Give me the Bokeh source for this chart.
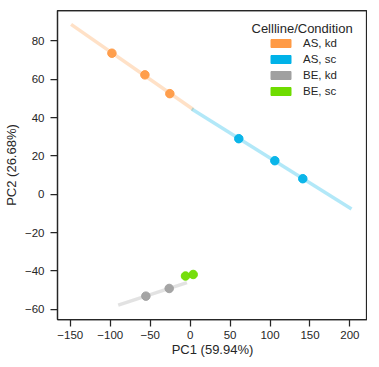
import numpy as np
from bokeh.plotting import figure
from bokeh.models import Range1d, FixedTicker, Legend, LegendItem, Label, Span
from bokeh.embed import file_html
from bokeh.resources import INLINE

groups = ["AS, kd", "AS, sc", "BE, kd", "BE, sc"]
colors = ["#FF9A45", "#00B2E8", "#A0A0A0", "#6FDC00"]
pc1 = {
    "AS, kd": [-97.9, -56.6, -25.4],
    "AS, sc": [60.9, 106.0, 141.0],
    "BE, kd": [-55.4, -26.2],
    "BE, sc": [-5.8, 3.8],
}
pc2 = {
    "AS, kd": [73.6, 62.3, 52.5],
    "AS, sc": [29.0, 17.5, 8.1],
    "BE, kd": [-53.2, -49.2],
    "BE, sc": [-42.7, -41.9],
}
# x-extent of the fitted trend line per group
fit_x_start = {"AS, kd": -149.0, "AS, sc": 2.0, "BE, kd": -90.0}
fit_x_end = {"AS, kd": 4.0, "AS, sc": 202.0, "BE, kd": -4.0}

x_ticks = [-150, -100, -50, 0, 50, 100, 150, 200]
y_ticks = [-60, -40, -20, 0, 20, 40, 60, 80]
x_label = "PC1 (59.94%)"
y_label = "PC2 (26.68%)"
legend_title = "Cellline/Condition"

FONT = "Liberation Sans"
TXT = "#262626"
X0, X1, Y0, Y1 = -166, 222, -65.4, 95.9

p = figure(frame_width=310, frame_height=309, output_backend="svg",
           toolbar_location=None, x_range=Range1d(X0, X1), y_range=Range1d(Y0, Y1),
           min_border_left=56, min_border_right=0, min_border_top=10, min_border_bottom=38)
p.background_fill_color = "white"
p.border_fill_color = "white"
p.grid.visible = False
p.outline_line_color = TXT
p.outline_line_width = 1.25

for ax, ticks in ((p.xaxis[0], x_ticks), (p.yaxis[0], y_ticks)):
    ax.ticker = FixedTicker(ticks=ticks)
    ax.minor_tick_line_color = None
    ax.major_tick_in = 0
    ax.major_tick_out = 7
    ax.major_tick_line_color = TXT
    ax.major_tick_line_width = 1.25
    ax.axis_line_color = TXT
    ax.axis_line_width = 1.25
    ax.major_label_text_font = FONT
    ax.major_label_text_font_size = "11.5px"
    ax.major_label_text_color = TXT
    ax.axis_label_text_font = FONT
    ax.axis_label_text_font_size = "13px"
    ax.axis_label_text_font_style = "normal"
    ax.axis_label_text_color = TXT

p.xaxis.axis_label = x_label
p.yaxis.axis_label = y_label
p.xaxis.major_label_standoff = 4
p.xaxis.axis_label_standoff = 0
p.yaxis.major_label_standoff = 6
p.yaxis.axis_label_standoff = 3

# top and right frame edges
p.add_layout(Span(location=X1, dimension="height", line_color=TXT, line_width=1.25))
p.add_layout(Span(location=Y1, dimension="width", line_color=TXT, line_width=1.25))

for g, c in zip(groups, colors):
    if g in fit_x_start:
        xs = np.array(pc1[g])
        ys = np.array(pc2[g])
        k, b = np.polyfit(xs, ys, 1)
        lx = np.array([fit_x_start[g], fit_x_end[g]])
        p.line(lx, k * lx + b, line_color=c, line_alpha=0.3, line_width=3.5)

for g, c in zip(groups, colors):
    p.scatter(pc1[g], pc2[g], size=8.5, fill_color=c, line_color=c, fill_alpha=0.95, line_alpha=0.95)

items = []
for g, c in zip(groups, colors):
    r = p.quad(left=[np.nan], right=[np.nan], top=[np.nan], bottom=[np.nan],
               fill_color=c, line_color=c)
    items.append(LegendItem(label=g, renderers=[r]))

legend = Legend(items=items, location=(211, 220), padding=0, margin=0, spacing=0,
                glyph_width=25, glyph_height=10, label_height=16, label_standoff=10,
                label_text_font=FONT, label_text_font_size="11.5px", label_text_color=TXT,
                border_line_color=None, background_fill_alpha=0)
p.add_layout(legend, "center")

p.add_layout(Label(x=194, y=291, x_units="screen", y_units="screen", text=legend_title,
                   text_font=FONT, text_font_size="13px", text_color=TXT,
                   text_baseline="alphabetic"))

open("out.html", "w").write(file_html(p, INLINE))
